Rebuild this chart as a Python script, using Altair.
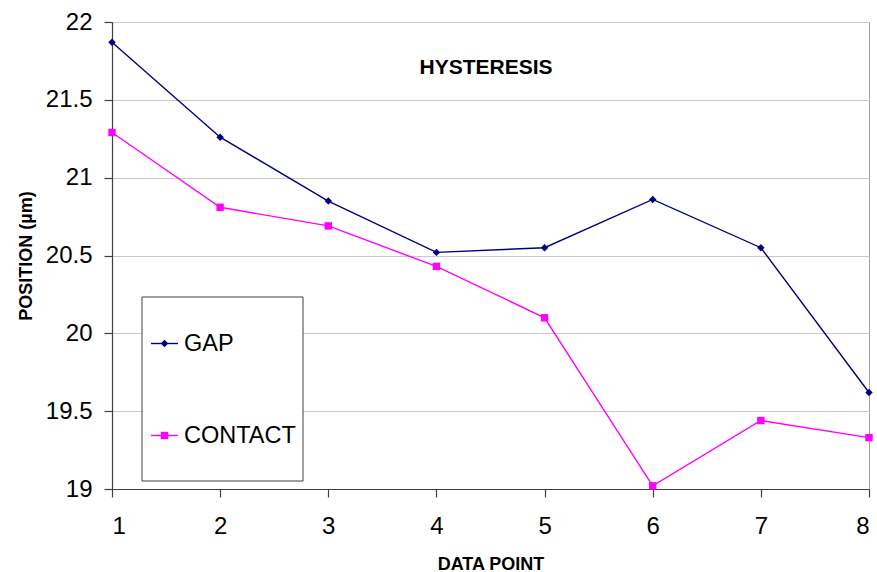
import altair as alt
import pandas as pd

# Measurement values read per data point
data_points = [1, 2, 3, 4, 5, 6, 7, 8]
gap_values = [21.87, 21.26, 20.85, 20.52, 20.55, 20.86, 20.55, 19.62]
contact_values = [21.29, 20.81, 20.69, 20.43, 20.10, 19.02, 19.44, 19.33]
series_names = ["GAP", "CONTACT"]
series_colors = ["#000080", "#FF00FF"]
series_shapes = ["diamond", "square"]
y_ticks = [19, 19.5, 20, 20.5, 21, 21.5, 22]

rows = []
for name, vals in zip(series_names, [gap_values, contact_values]):
    for p, v in zip(data_points, vals):
        rows.append({"point": p, "value": v, "series": name})
df = pd.DataFrame(rows)

FONT = "Liberation Sans"
W, H = 757, 467

x_enc = alt.X("point:Q",
              scale=alt.Scale(domain=[1, 8], nice=False, zero=False),
              axis=alt.Axis(values=data_points, format="d", title="DATA POINT",
                            grid=False, tickSize=8, labelPadding=17,
                            titlePadding=17))
y_enc = alt.Y("value:Q",
              scale=alt.Scale(domain=[19, 22], nice=False, zero=False),
              axis=alt.Axis(values=y_ticks, format="~f", title="POSITION (µm)",
                            grid=True, tickSize=8, labelPadding=12,
                            titlePadding=10))
color_enc = alt.Color("series:N",
                      scale=alt.Scale(domain=series_names, range=series_colors),
                      legend=None)
shape_enc = alt.Shape("series:N",
                      scale=alt.Scale(domain=series_names, range=series_shapes),
                      legend=None)

base = alt.Chart(df)
lines = base.mark_line(strokeWidth=1.4).encode(x=x_enc, y=y_enc, color=color_enc,
                                               detail="series:N")
points = base.mark_point(filled=True, opacity=1, size=55).encode(
    x="point:Q", y="value:Q", color=color_enc, shape=shape_enc)

# Chart heading inside the plot area
title_df = pd.DataFrame({"t": ["HYSTERESIS"]})
heading = alt.Chart(title_df).mark_text(font=FONT, fontSize=21, fontWeight="bold",
                                        color="black").encode(
    text="t:N", x=alt.value(374), y=alt.value(46))

# Boxed legend in the lower-left of the plot
leg_df = pd.DataFrame({"series": series_names,
                       "ly": [321.5, 413.5]})
leg_box = alt.Chart(pd.DataFrame({"a": [0]})).mark_rect(
    fill="white", stroke="#404040", strokeWidth=1).encode(
    x=alt.value(30), x2=alt.value(191), y=alt.value(275), y2=alt.value(459))
leg_line = alt.Chart(leg_df).mark_rule(strokeWidth=1.4).encode(
    x=alt.value(39), x2=alt.value(66), y=alt.Y("ly:Q", scale=None),
    color=color_enc)
leg_pt = alt.Chart(leg_df).mark_point(filled=True, opacity=1, size=55).encode(
    x=alt.value(52.5), y=alt.Y("ly:Q", scale=None), color=color_enc, shape=shape_enc)
leg_txt = alt.Chart(leg_df).mark_text(font=FONT, fontSize=23.5, align="left",
                                      baseline="middle", color="black").encode(
    x=alt.value(72), y=alt.Y("ly:Q", scale=None), text="series:N")

chart = alt.layer(lines, points, heading, leg_box, leg_line, leg_pt, leg_txt).properties(
    width=W, height=H,
    background="white",
    autosize=alt.AutoSizeParams(type="none"),
    padding={"left": 112, "top": 22, "right": 8, "bottom": 83},
).configure_view(
    stroke="#a0a0a0", strokeWidth=1
).configure_axis(
    labelFont=FONT, labelFontSize=24, labelColor="black",
    titleFont=FONT, titleFontSize=18, titleFontWeight="bold", titleColor="black",
    domainColor="#404040", domainWidth=1.2, tickColor="#404040", tickWidth=1.2,
    gridColor="#c8c8c8", gridWidth=1
)

chart.save("out.html", embed_options={"renderer": "svg", "actions": False})
